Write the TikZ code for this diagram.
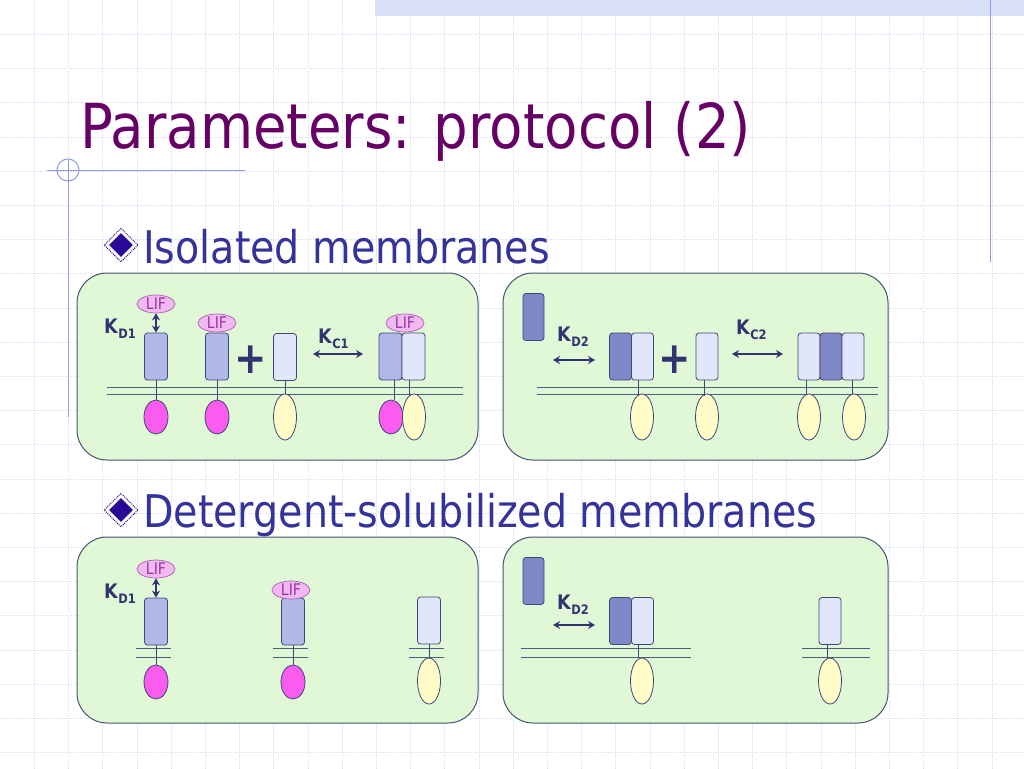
\documentclass[tikz,border=0pt]{standalone}
\usepackage{fontspec}
\setmainfont[FakeStretch=0.88]{DejaVu Sans}
\usetikzlibrary{shapes.geometric,arrows.meta}

\definecolor{titlec}{RGB}{102,0,102}
\definecolor{bulc}{RGB}{51,51,153}
\definecolor{kcol}{RGB}{48,52,112}
\definecolor{gridc}{RGB}{222,226,246}
\definecolor{decoc}{RGB}{140,156,224}
\definecolor{bandc}{RGB}{216,225,247}
\definecolor{pfill}{RGB}{224,248,214}
\definecolor{pedge}{RGB}{70,84,112}
\definecolor{edge}{RGB}{62,72,120}
\definecolor{mline}{RGB}{74,96,128}
\definecolor{recmid}{RGB}{176,184,232}
\definecolor{reclight}{RGB}{226,230,250}
\definecolor{recdark}{RGB}{128,136,200}
\definecolor{magen}{RGB}{250,92,240}
\definecolor{yell}{RGB}{255,252,200}
\definecolor{liff}{RGB}{242,184,242}
\definecolor{lifc}{RGB}{150,56,160}
\definecolor{dia}{RGB}{40,10,150}

\newcommand{\klab}[1]{K\kern0.5pt\raisebox{-5pt}{\fontsize{13}{13}\selectfont\bfseries #1}}

\begin{document}
\begin{tikzpicture}[x=1pt,y=-1pt,
  rec/.style={draw=edge, rounded corners=3pt, minimum width=23pt, minimum height=47pt, inner sep=0pt, line width=0.8pt},
  recA/.style={rec, fill=recmid},
  recB/.style={rec, fill=reclight},
  recC/.style={rec, fill=recdark},
  pink/.style={ellipse, draw=edge, fill=magen, minimum width=24pt, minimum height=34pt, inner sep=0pt, line width=0.8pt},
  yel/.style={ellipse, draw=edge, fill=yell, minimum width=23pt, minimum height=46pt, inner sep=0pt, line width=0.8pt},
  lif/.style={ellipse, draw=lifc!80, fill=liff, minimum width=38pt, minimum height=18pt, inner sep=0pt, line width=0.7pt,
              text=lifc, font=\fontsize{16}{16}\selectfont},
  kl/.style={text=kcol, font=\fontsize{20}{20}\selectfont\bfseries, inner sep=0pt},
  plus/.style={text=kcol, font=\fontsize{44}{44}\selectfont\bfseries, inner sep=0pt},
  panel/.style={draw=pedge, fill=pfill, rounded corners=30pt, line width=1pt},
  memb/.style={draw=mline, line width=0.9pt},
  stalk/.style={draw=edge, line width=0.8pt},
  dbl/.style={{Stealth[length=7pt,width=8pt]}-{Stealth[length=7pt,width=8pt]}, draw=kcol, line width=1.6pt},
  bul/.style={text=bulc, font=\fontsize{45}{45}\selectfont, inner sep=0pt, anchor=base west}]

\useasboundingbox (0,0) rectangle (1024,768);
\fill[white] (0,0) rectangle (1024,768);

% background grid
\foreach \i in {1,...,29}
  \draw[gridc, line width=0.6pt, dash pattern=on 1.5pt off 1pt] (\i*34.2,0) -- (\i*34.2,768);
\foreach \j in {1,...,22}
  \draw[gridc, line width=0.6pt, dash pattern=on 1.5pt off 1pt] (0,\j*34.2) -- (1024,\j*34.2);
\fill[bandc] (375,0) rectangle (1024,16);
\draw[decoc, line width=1pt] (990,0) -- (990,262);
\draw[decoc, line width=1pt] (47,170) -- (245,170);
\draw[decoc, line width=1pt] (68,160) -- (68,417);
\draw[decoc, line width=1pt] (68,170) circle (11);

% title and bullets
\node[text=titlec, font=\fontsize{62}{62}\selectfont, inner sep=0pt, anchor=base west] (title) at (80,148) {Parameters: protocol (2)};
\foreach \n/\y in {b1/245, b2/510} {
  \node[diamond, draw=dia, line width=1pt, dash pattern=on 1pt off 1pt, minimum size=34pt, inner sep=0pt] (\n o) at (121,\y) {};
  \node[diamond, fill=dia, minimum size=24pt, inner sep=0pt] (\n) at (121,\y) {};
}
\node[bul] (t1) at (143,263) {Isolated membranes};
\node[bul] (t2) at (143,527) {Detergent-solubilized membranes};

% panels
\draw[panel] (77,273) rectangle (478,460);
\draw[panel] (503,273) rectangle (888,460);
\draw[panel] (77,537) rectangle (478,723);
\draw[panel] (503,537) rectangle (888,723);

% isolated membranes, LIF
\draw[memb] (107,387) -- (463,387);
\draw[memb] (107,394) -- (463,394);
\node[recA] (r1) at (156,356.5) {};
\node[lif] (l1) at (156,304) {LIF};
\node[pink] (m1) at (156,417) {};
\node[kl, anchor=base west] (kd1) at (104,333) {\klab{D1}};
\draw[dbl] (l1.south) -- (r1.north);
\draw[stalk] (r1.south) -- (m1.north);
\node[recA] (r2) at (217,356.5) {};
\node[lif] (l2) at (217,323) {LIF};
\node[pink] (m2) at (217,417) {};
\draw[stalk] (r2.south) -- (m2.north);
\node[plus] (p1) at (251,360) {+};
\node[recB] (r3) at (285,357) {};
\node[yel] (y3) at (285,417) {};
\draw[stalk] (r3.south) -- (y3.north);
\node[kl, anchor=base west] (kc1) at (318,343) {\klab{C1}};
\coordinate (a1) at (313,354);
\coordinate (a2) at (363,354);
\draw[dbl] (a1) -- (a2);
\node[recA] (r4) at (390.5,356.5) {};
\node[recB] (r5) at (413.5,356.5) {};
\node[lif] (l4) at (405,323) {LIF};
\draw[stalk] ([xshift=4pt]r4.south) -- ++(0,20);
\draw[stalk] ([xshift=-4pt]r5.south) -- ++(0,16);
\node[pink] (m4) at (391,417) {};
\node[yel] (y5) at (414,417) {};

% isolated membranes, second receptor
\draw[memb] (537,387) -- (878,387);
\draw[memb] (537,394) -- (878,394);
\node[recC, minimum width=21pt] (f1) at (533.5,317) {};
\node[kl, anchor=base west] (kd2) at (557,341) {\klab{D2}};
\coordinate (a3) at (553,360);
\coordinate (a4) at (595,360);
\draw[dbl] (a3) -- (a4);
\node[recC, minimum width=22pt] (c1) at (620.5,356.5) {};
\node[recB, minimum width=22pt] (c2) at (642.5,356.5) {};
\node[yel] (y6) at (642,417) {};
\draw[stalk] ([xshift=-4pt]c2.south) -- ++(0,16);
\node[plus] (p2) at (675,360) {+};
\node[recB, minimum width=22pt] (c3) at (707,356.5) {};
\node[yel] (y7) at (707,417) {};
\draw[stalk] ([xshift=-3pt]c3.south) -- ++(0,16);
\node[kl, anchor=base west] (kc2) at (736,334) {\klab{C2}};
\coordinate (a5) at (732,354);
\coordinate (a6) at (783,354);
\draw[dbl] (a5) -- (a6);
\node[recB, minimum width=22pt] (g1) at (809,356.5) {};
\node[recC, minimum width=22pt] (g2) at (831,356.5) {};
\node[recB, minimum width=22pt] (g3) at (853,356.5) {};
\node[yel] (y8) at (809,417) {};
\node[yel] (y9) at (854,417) {};
\draw[stalk] ([xshift=-3pt]g1.south) -- ++(0,14);
\draw[stalk] ([xshift=-1pt]g3.south) -- ++(0,14);

% detergent-solubilized, LIF
\node[recA] (r6) at (156,621.5) {};
\node[lif] (l6) at (156,569) {LIF};
\node[pink] (m6) at (156,682) {};
\node[kl, anchor=base west] (kd3) at (104,598) {\klab{D1}};
\draw[dbl] (l6.south) -- (r6.north);
\draw[memb] (136,648) -- (171,648);
\draw[memb] (136,657) -- (171,657);
\draw[stalk] (r6.south) -- (m6.north);
\node[recA] (r7) at (293,621.5) {};
\node[lif] (l7) at (291,590) {LIF};
\node[pink] (m7) at (293,682) {};
\draw[memb] (273,648) -- (308,648);
\draw[memb] (273,657) -- (308,657);
\draw[stalk] (r7.south) -- (m7.north);
\node[recB] (r8) at (429,620.5) {};
\node[yel] (y10) at (429,681) {};
\draw[memb] (409,648) -- (444,648);
\draw[memb] (409,657) -- (444,657);
\draw[stalk] (r8.south) -- (y10.north);

% detergent-solubilized, second receptor
\node[recC, minimum width=21pt] (f2) at (533.5,581) {};
\node[kl, anchor=base west] (kd4) at (557,609) {\klab{D2}};
\coordinate (a7) at (553,625);
\coordinate (a8) at (595,625);
\draw[dbl] (a7) -- (a8);
\node[recC, minimum width=22pt] (d1) at (620.5,621) {};
\node[recB, minimum width=22pt] (d2) at (642.5,621) {};
\node[yel] (y11) at (642,681) {};
\draw[memb] (521,648) -- (691,648);
\draw[memb] (521,657) -- (691,657);
\draw[stalk] ([xshift=-4pt]d2.south) -- ++(0,13);
\node[recB, minimum width=22pt] (s1) at (830,621) {};
\node[yel] (y12) at (830,681) {};
\draw[memb] (802,648) -- (870,648);
\draw[memb] (802,657) -- (870,657);
\draw[stalk] ([xshift=-3pt]s1.south) -- ++(0,13);
\end{tikzpicture}
\end{document}
